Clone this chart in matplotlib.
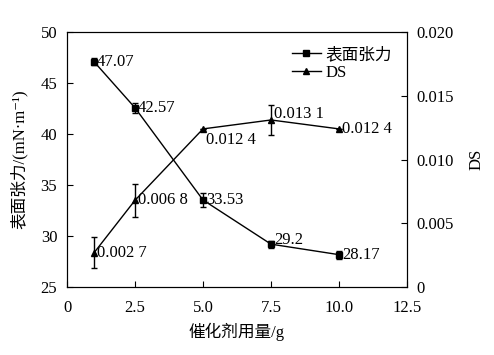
import numpy as np
import matplotlib.pyplot as plt
from matplotlib.lines import Line2D

plt.rcParams['font.family'] = ['Liberation Serif', 'Noto Sans CJK SC', 'DejaVu Serif']

# datos
dosis = [1, 2.5, 5, 7.5, 10]
tension = [47.07, 42.57, 33.53, 29.2, 28.17]
tension_err = [0.35, 0.5, 0.7, 0.35, 0.4]
ds = [0.0027, 0.0068, 0.0124, 0.0131, 0.0124]
ds_err = [0.0012, 0.0013, 0.0, 0.0012, 0.0]
etiq_tension = ['47.07', '42.57', '33.53', '29.2', '28.17']
etiq_ds = ['0.002 7', '0.006 8', '0.012 4', '0.013 1', '0.012 4']

fig = plt.figure(figsize=(4.94, 3.55), dpi=100)
ax = fig.add_axes([67/494, 1 - 287/355, 340/494, 255/355])
ax2 = ax.twinx()

ax.errorbar(dosis, tension, yerr=tension_err, color='black', lw=1,
            marker='s', ms=4, capsize=2.5, elinewidth=1)
ax2.errorbar(dosis, ds, yerr=ds_err, color='black', lw=1,
             marker='^', ms=4.5, capsize=2.5, elinewidth=1)

# etiquetas de valores
off_t = [(2, 0), (2, 0), (2, 0), (2, 3), (2, 0)]
for x, y, s, o in zip(dosis, tension, etiq_tension, off_t):
    ax.annotate(s, (x, y), xytext=o, textcoords='offset points',
                ha='left', va='center', fontsize=12)
off_d = [(2, 0), (2, 0), (2, -8), (2, 4), (2, 0)]
for x, y, s, o in zip(dosis, ds, etiq_ds, off_d):
    ax2.annotate(s, (x, y), xytext=o, textcoords='offset points',
                 ha='left', va='center', fontsize=12)

ax.set_xlim(0, 12.5)
ax.set_ylim(25, 50)
ax2.set_ylim(0, 0.02)
ax.set_xticks([0, 2.5, 5, 7.5, 10, 12.5])
ax.set_xticklabels(['0', '2.5', '5.0', '7.5', '10.0', '12.5'])
ax.set_yticks([25, 30, 35, 40, 45, 50])
ax2.set_yticks([0, 0.005, 0.01, 0.015, 0.02])
ax2.set_yticklabels(['0', '0.005', '0.010', '0.015', '0.020'])

for a in (ax, ax2):
    a.tick_params(direction='in', labelsize=12, length=4, width=0.8, pad=7)
ax.tick_params(axis='x', pad=9)

ax.set_xlabel('催化剂用量/g', fontsize=12, labelpad=5)
ax.set_ylabel('表面张力/(mN·m⁻¹)', fontsize=12, labelpad=9)
ax2.set_ylabel('DS', fontsize=12, labelpad=10)

h1 = Line2D([], [], color='black', lw=1, marker='s', ms=4)
h2 = Line2D([], [], color='black', lw=1, marker='^', ms=4.5)
ax.legend([h1, h2], ['表面张力', 'DS'], loc='upper right', frameon=False,
          fontsize=12, handlelength=1.7, handletextpad=0.3, labelspacing=0.1,
          borderaxespad=0.5)

plt.savefig('out.png', dpi=100)
